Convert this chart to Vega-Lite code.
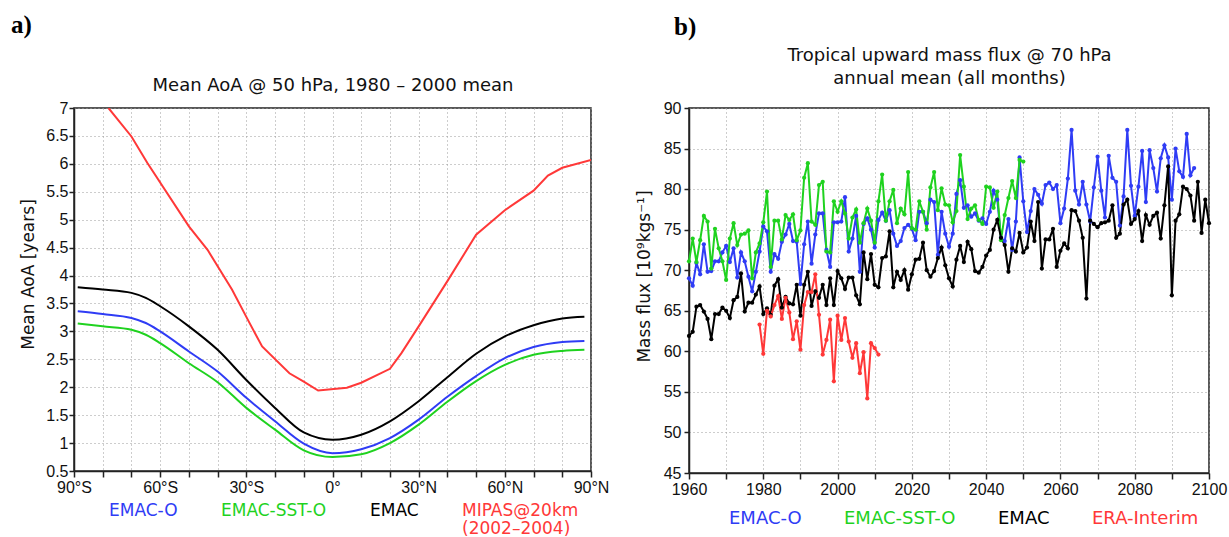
{
  "$schema": "https://vega.github.io/schema/vega-lite/v6.json",
  "background": "white",
  "padding": {"left": 10, "top": 12, "right": 5, "bottom": 0},
  "spacing": 24,
  "config": {
    "view": {"stroke": "#222222", "strokeWidth": 1.5},
    "axis": {
      "labelFont": "Liberation Sans", "labelFontSize": 16, "labelColor": "#111111",
      "titleFont": "DejaVu Sans", "titleFontWeight": "normal", "titleFontSize": 17, "titleColor": "#111111",
      "tickColor": "#222222", "domainColor": "#222222", "tickSize": 6, "tickWidth": 1.5, "domainWidth": 1.5, "ticks": true,
      "gridColor": "#9a9a9a", "gridDash": [1, 3], "gridWidth": 1
    },
    "legend": {
      "labelFont": "DejaVu Sans", "labelFontSize": 18, "symbolSize": 0, "symbolOpacity": 0, "symbolStrokeWidth": 0,
      "labelOffset": 0, "orient": "bottom", "direction": "horizontal", "title": null
    }
  },
  "hconcat": [
    {
      "width": 517,
      "height": 363,
      "view": {"stroke": "#222222", "strokeWidth": 1.5},
      "title": {"text": "a)", "anchor": "start", "frame": "group", "font": "Liberation Serif", "fontSize": 25, "fontWeight": "bold", "color": "#000000", "dx": -63, "offset": 38},
      "data": {"values": [
        {"series": "EMAC", "lat": -88.7, "aoa": 3.79}, {"series": "EMAC", "lat": -80, "aoa": 3.75}, {"series": "EMAC", "lat": -70, "aoa": 3.69}, {"series": "EMAC", "lat": -65, "aoa": 3.6}, {"series": "EMAC", "lat": -60, "aoa": 3.45}, {"series": "EMAC", "lat": -50, "aoa": 3.09}, {"series": "EMAC", "lat": -40, "aoa": 2.67}, {"series": "EMAC", "lat": -30, "aoa": 2.13}, {"series": "EMAC", "lat": -20, "aoa": 1.63}, {"series": "EMAC", "lat": -10, "aoa": 1.19}, {"series": "EMAC", "lat": 0, "aoa": 1.06}, {"series": "EMAC", "lat": 10, "aoa": 1.15}, {"series": "EMAC", "lat": 20, "aoa": 1.39}, {"series": "EMAC", "lat": 30, "aoa": 1.75}, {"series": "EMAC", "lat": 40, "aoa": 2.18}, {"series": "EMAC", "lat": 50, "aoa": 2.6}, {"series": "EMAC", "lat": 60, "aoa": 2.91}, {"series": "EMAC", "lat": 70, "aoa": 3.11}, {"series": "EMAC", "lat": 80, "aoa": 3.23}, {"series": "EMAC", "lat": 87.7, "aoa": 3.26},
        {"series": "EMAC-O", "lat": -88.7, "aoa": 3.36}, {"series": "EMAC-O", "lat": -80, "aoa": 3.31}, {"series": "EMAC-O", "lat": -70, "aoa": 3.24}, {"series": "EMAC-O", "lat": -65, "aoa": 3.15}, {"series": "EMAC-O", "lat": -60, "aoa": 3.0}, {"series": "EMAC-O", "lat": -50, "aoa": 2.64}, {"series": "EMAC-O", "lat": -40, "aoa": 2.28}, {"series": "EMAC-O", "lat": -30, "aoa": 1.81}, {"series": "EMAC-O", "lat": -20, "aoa": 1.39}, {"series": "EMAC-O", "lat": -10, "aoa": 0.99}, {"series": "EMAC-O", "lat": 0, "aoa": 0.82}, {"series": "EMAC-O", "lat": 10, "aoa": 0.89}, {"series": "EMAC-O", "lat": 20, "aoa": 1.09}, {"series": "EMAC-O", "lat": 30, "aoa": 1.42}, {"series": "EMAC-O", "lat": 40, "aoa": 1.83}, {"series": "EMAC-O", "lat": 50, "aoa": 2.2}, {"series": "EMAC-O", "lat": 60, "aoa": 2.52}, {"series": "EMAC-O", "lat": 70, "aoa": 2.72}, {"series": "EMAC-O", "lat": 80, "aoa": 2.81}, {"series": "EMAC-O", "lat": 87.7, "aoa": 2.83},
        {"series": "EMAC-SST-O", "lat": -88.7, "aoa": 3.14}, {"series": "EMAC-SST-O", "lat": -80, "aoa": 3.09}, {"series": "EMAC-SST-O", "lat": -70, "aoa": 3.03}, {"series": "EMAC-SST-O", "lat": -65, "aoa": 2.94}, {"series": "EMAC-SST-O", "lat": -60, "aoa": 2.79}, {"series": "EMAC-SST-O", "lat": -50, "aoa": 2.43}, {"series": "EMAC-SST-O", "lat": -40, "aoa": 2.09}, {"series": "EMAC-SST-O", "lat": -30, "aoa": 1.63}, {"series": "EMAC-SST-O", "lat": -20, "aoa": 1.24}, {"series": "EMAC-SST-O", "lat": -10, "aoa": 0.87}, {"series": "EMAC-SST-O", "lat": 0, "aoa": 0.75}, {"series": "EMAC-SST-O", "lat": 10, "aoa": 0.8}, {"series": "EMAC-SST-O", "lat": 20, "aoa": 1.0}, {"series": "EMAC-SST-O", "lat": 30, "aoa": 1.33}, {"series": "EMAC-SST-O", "lat": 40, "aoa": 1.74}, {"series": "EMAC-SST-O", "lat": 50, "aoa": 2.11}, {"series": "EMAC-SST-O", "lat": 60, "aoa": 2.4}, {"series": "EMAC-SST-O", "lat": 70, "aoa": 2.58}, {"series": "EMAC-SST-O", "lat": 80, "aoa": 2.65}, {"series": "EMAC-SST-O", "lat": 87.7, "aoa": 2.67},
        {"series": "MIPAS@20km", "lat": -78, "aoa": 7.0}, {"series": "MIPAS@20km", "lat": -70, "aoa": 6.49}, {"series": "MIPAS@20km", "lat": -64.5, "aoa": 6.02}, {"series": "MIPAS@20km", "lat": -50, "aoa": 4.88}, {"series": "MIPAS@20km", "lat": -43.5, "aoa": 4.46}, {"series": "MIPAS@20km", "lat": -35, "aoa": 3.75}, {"series": "MIPAS@20km", "lat": -29.5, "aoa": 3.21}, {"series": "MIPAS@20km", "lat": -24.5, "aoa": 2.73}, {"series": "MIPAS@20km", "lat": -15, "aoa": 2.25}, {"series": "MIPAS@20km", "lat": -10, "aoa": 2.1}, {"series": "MIPAS@20km", "lat": -5, "aoa": 1.94}, {"series": "MIPAS@20km", "lat": 5, "aoa": 1.99}, {"series": "MIPAS@20km", "lat": 10, "aoa": 2.08}, {"series": "MIPAS@20km", "lat": 20, "aoa": 2.33}, {"series": "MIPAS@20km", "lat": 24, "aoa": 2.61}, {"series": "MIPAS@20km", "lat": 30, "aoa": 3.09}, {"series": "MIPAS@20km", "lat": 40, "aoa": 3.9}, {"series": "MIPAS@20km", "lat": 50, "aoa": 4.73}, {"series": "MIPAS@20km", "lat": 60, "aoa": 5.17}, {"series": "MIPAS@20km", "lat": 70, "aoa": 5.52}, {"series": "MIPAS@20km", "lat": 75, "aoa": 5.79}, {"series": "MIPAS@20km", "lat": 80, "aoa": 5.93}, {"series": "MIPAS@20km", "lat": 90, "aoa": 6.07}
      ]},
      "layer": [
        {
          "encoding": {
            "x": {"field": "lat", "type": "quantitative", "scale": {"domain": [-90, 90], "nice": false},
              "axis": {"title": null, "grid": true, "ticks": true, "values": [-90, -80, -70, -60, -50, -40, -30, -20, -10, 0, 10, 20, 30, 40, 50, 60, 70, 80, 90],
                "labelExpr": "datum.value % 30 != 0 ? '' : datum.value == 0 ? '0°' : datum.value < 0 ? (-datum.value) + '°S' : datum.value + '°N'",
                "labelPadding": 2, "labelFlush": false, "labelOverlap": false}},
            "y": {"field": "aoa", "type": "quantitative", "scale": {"domain": [0.5, 7], "nice": false, "zero": false},
              "axis": {"title": "Mean AoA [years]", "grid": true, "ticks": true, "values": [0.5, 1, 1.5, 2, 2.5, 3, 3.5, 4, 4.5, 5, 5.5, 6, 6.5, 7],
                "labelExpr": "'' + datum.value", "tickSize": 5, "labelPadding": 1, "titlePadding": 8, "titleY": 166, "labelFlush": false, "labelOverlap": false}},
            "color": {"field": "series", "type": "nominal",
              "scale": {"domain": ["EMAC-O", "EMAC-SST-O", "EMAC", "MIPAS@20km"], "range": ["#2f3cf5", "#1fd21f", "#000000", "#ff3838"]},
              "legend": {"columnPadding": 26, "offset": -19, "padding": 18, "labelBaseline": "top", "labelFontSize": 17,
                "labelExpr": "datum.label == 'MIPAS@20km' ? ['MIPAS@20km', '(2002–2004)'] : [datum.label, ' ']",
                "encode": {"labels": {"update": {"lineHeight": {"value": 18}, "fill": {"signal": "datum.value == 'EMAC-O' ? '#2f3cf5' : datum.value == 'EMAC-SST-O' ? '#1fd21f' : datum.value == 'EMAC' ? '#000000' : '#ff3838'"}}}}}}
          },
          "layer": [
            {"transform": [{"filter": "datum.series != 'MIPAS@20km'"}], "mark": {"type": "line", "strokeWidth": 2, "interpolate": "monotone"}},
            {"transform": [{"filter": "datum.series == 'MIPAS@20km'"}], "mark": {"type": "line", "strokeWidth": 2, "clip": true}}
          ]
        },
        {
          "mark": {"type": "rule", "opacity": 0},
          "encoding": {
            "x": {"field": "lat", "type": "quantitative",
              "axis": {"orient": "top", "title": "Mean AoA @ 50 hPa, 1980 – 2000 mean", "titleFontSize": 18, "labels": false, "ticks": false, "domain": false, "grid": false, "titlePadding": 14}}
          }
        }
      ],
      "resolve": {"axis": {"x": "independent"}}
    },
    {
      "width": 520,
      "height": 365,
      "view": {"stroke": "#222222", "strokeWidth": 1.5},
      "title": {"text": "b)", "anchor": "start", "frame": "group", "font": "Liberation Serif", "fontSize": 25, "fontWeight": "bold", "color": "#000000", "dx": -15, "offset": 6},
      "data": {"values": [
        {"series": "EMAC-O", "year": 1960, "flux": 69.0}, {"series": "EMAC-O", "year": 1961, "flux": 68.1}, {"series": "EMAC-O", "year": 1962, "flux": 70.9}, {"series": "EMAC-O", "year": 1963, "flux": 69.5}, {"series": "EMAC-O", "year": 1964, "flux": 73.2}, {"series": "EMAC-O", "year": 1965, "flux": 69.8}, {"series": "EMAC-O", "year": 1966, "flux": 69.9}, {"series": "EMAC-O", "year": 1967, "flux": 71.1}, {"series": "EMAC-O", "year": 1968, "flux": 71.1}, {"series": "EMAC-O", "year": 1969, "flux": 72.2},
        {"series": "EMAC-O", "year": 1970, "flux": 73.0}, {"series": "EMAC-O", "year": 1971, "flux": 71.0}, {"series": "EMAC-O", "year": 1972, "flux": 72.7}, {"series": "EMAC-O", "year": 1973, "flux": 69.1}, {"series": "EMAC-O", "year": 1974, "flux": 72.2}, {"series": "EMAC-O", "year": 1975, "flux": 71.1}, {"series": "EMAC-O", "year": 1976, "flux": 69.2}, {"series": "EMAC-O", "year": 1977, "flux": 67.4}, {"series": "EMAC-O", "year": 1978, "flux": 69.8}, {"series": "EMAC-O", "year": 1979, "flux": 72.3},
        {"series": "EMAC-O", "year": 1980, "flux": 75.4}, {"series": "EMAC-O", "year": 1981, "flux": 74.8}, {"series": "EMAC-O", "year": 1982, "flux": 69.8}, {"series": "EMAC-O", "year": 1983, "flux": 72.0}, {"series": "EMAC-O", "year": 1984, "flux": 71.4}, {"series": "EMAC-O", "year": 1985, "flux": 73.5}, {"series": "EMAC-O", "year": 1986, "flux": 74.4}, {"series": "EMAC-O", "year": 1987, "flux": 75.7}, {"series": "EMAC-O", "year": 1988, "flux": 73.6}, {"series": "EMAC-O", "year": 1989, "flux": 73.5},
        {"series": "EMAC-O", "year": 1990, "flux": 68.3}, {"series": "EMAC-O", "year": 1991, "flux": 73.2}, {"series": "EMAC-O", "year": 1992, "flux": 76.0}, {"series": "EMAC-O", "year": 1993, "flux": 70.8}, {"series": "EMAC-O", "year": 1994, "flux": 74.4}, {"series": "EMAC-O", "year": 1995, "flux": 77.0}, {"series": "EMAC-O", "year": 1996, "flux": 77.0}, {"series": "EMAC-O", "year": 1997, "flux": 72.5}, {"series": "EMAC-O", "year": 1998, "flux": 70.4}, {"series": "EMAC-O", "year": 1999, "flux": 75.9},
        {"series": "EMAC-O", "year": 2000, "flux": 75.9}, {"series": "EMAC-O", "year": 2001, "flux": 76.0}, {"series": "EMAC-O", "year": 2002, "flux": 79.0}, {"series": "EMAC-O", "year": 2003, "flux": 72.3}, {"series": "EMAC-O", "year": 2004, "flux": 73.9}, {"series": "EMAC-O", "year": 2005, "flux": 76.7}, {"series": "EMAC-O", "year": 2006, "flux": 69.8}, {"series": "EMAC-O", "year": 2007, "flux": 75.7}, {"series": "EMAC-O", "year": 2008, "flux": 76.4}, {"series": "EMAC-O", "year": 2009, "flux": 75.0},
        {"series": "EMAC-O", "year": 2010, "flux": 72.8}, {"series": "EMAC-O", "year": 2011, "flux": 76.2}, {"series": "EMAC-O", "year": 2012, "flux": 77.1}, {"series": "EMAC-O", "year": 2013, "flux": 76.1}, {"series": "EMAC-O", "year": 2014, "flux": 77.4}, {"series": "EMAC-O", "year": 2015, "flux": 74.5}, {"series": "EMAC-O", "year": 2016, "flux": 73.0}, {"series": "EMAC-O", "year": 2017, "flux": 73.6}, {"series": "EMAC-O", "year": 2018, "flux": 75.2}, {"series": "EMAC-O", "year": 2019, "flux": 75.6},
        {"series": "EMAC-O", "year": 2020, "flux": 75.1}, {"series": "EMAC-O", "year": 2021, "flux": 73.7}, {"series": "EMAC-O", "year": 2022, "flux": 77.2}, {"series": "EMAC-O", "year": 2023, "flux": 77.2}, {"series": "EMAC-O", "year": 2024, "flux": 75.8}, {"series": "EMAC-O", "year": 2025, "flux": 78.7}, {"series": "EMAC-O", "year": 2026, "flux": 78.4}, {"series": "EMAC-O", "year": 2027, "flux": 71.9}, {"series": "EMAC-O", "year": 2028, "flux": 77.2}, {"series": "EMAC-O", "year": 2029, "flux": 74.5},
        {"series": "EMAC-O", "year": 2030, "flux": 72.9}, {"series": "EMAC-O", "year": 2031, "flux": 74.5}, {"series": "EMAC-O", "year": 2032, "flux": 79.4}, {"series": "EMAC-O", "year": 2033, "flux": 81.1}, {"series": "EMAC-O", "year": 2034, "flux": 77.7}, {"series": "EMAC-O", "year": 2035, "flux": 78.0}, {"series": "EMAC-O", "year": 2036, "flux": 76.6}, {"series": "EMAC-O", "year": 2037, "flux": 77.0}, {"series": "EMAC-O", "year": 2038, "flux": 76.1}, {"series": "EMAC-O", "year": 2039, "flux": 76.4},
        {"series": "EMAC-O", "year": 2040, "flux": 75.7}, {"series": "EMAC-O", "year": 2041, "flux": 77.2}, {"series": "EMAC-O", "year": 2042, "flux": 79.8}, {"series": "EMAC-O", "year": 2043, "flux": 78.7}, {"series": "EMAC-O", "year": 2044, "flux": 74.0}, {"series": "EMAC-O", "year": 2045, "flux": 73.6}, {"series": "EMAC-O", "year": 2046, "flux": 76.3}, {"series": "EMAC-O", "year": 2047, "flux": 72.5}, {"series": "EMAC-O", "year": 2048, "flux": 76.0}, {"series": "EMAC-O", "year": 2049, "flux": 83.9},
        {"series": "EMAC-O", "year": 2050, "flux": 78.5}, {"series": "EMAC-O", "year": 2051, "flux": 74.7}, {"series": "EMAC-O", "year": 2052, "flux": 77.3}, {"series": "EMAC-O", "year": 2053, "flux": 80.0}, {"series": "EMAC-O", "year": 2054, "flux": 79.3}, {"series": "EMAC-O", "year": 2055, "flux": 78.2}, {"series": "EMAC-O", "year": 2056, "flux": 80.5}, {"series": "EMAC-O", "year": 2057, "flux": 80.8}, {"series": "EMAC-O", "year": 2058, "flux": 80.0}, {"series": "EMAC-O", "year": 2059, "flux": 80.5},
        {"series": "EMAC-O", "year": 2060, "flux": 75.8}, {"series": "EMAC-O", "year": 2061, "flux": 77.6}, {"series": "EMAC-O", "year": 2062, "flux": 81.3}, {"series": "EMAC-O", "year": 2063, "flux": 87.3}, {"series": "EMAC-O", "year": 2064, "flux": 79.8}, {"series": "EMAC-O", "year": 2065, "flux": 78.1}, {"series": "EMAC-O", "year": 2066, "flux": 80.9}, {"series": "EMAC-O", "year": 2067, "flux": 78.1}, {"series": "EMAC-O", "year": 2068, "flux": 76.0}, {"series": "EMAC-O", "year": 2069, "flux": 80.2},
        {"series": "EMAC-O", "year": 2070, "flux": 84.0}, {"series": "EMAC-O", "year": 2071, "flux": 79.8}, {"series": "EMAC-O", "year": 2072, "flux": 76.5}, {"series": "EMAC-O", "year": 2073, "flux": 84.1}, {"series": "EMAC-O", "year": 2074, "flux": 81.4}, {"series": "EMAC-O", "year": 2075, "flux": 80.9}, {"series": "EMAC-O", "year": 2076, "flux": 75.5}, {"series": "EMAC-O", "year": 2077, "flux": 79.1}, {"series": "EMAC-O", "year": 2078, "flux": 87.3}, {"series": "EMAC-O", "year": 2079, "flux": 80.4},
        {"series": "EMAC-O", "year": 2080, "flux": 76.7}, {"series": "EMAC-O", "year": 2081, "flux": 80.3}, {"series": "EMAC-O", "year": 2082, "flux": 84.7}, {"series": "EMAC-O", "year": 2083, "flux": 78.4}, {"series": "EMAC-O", "year": 2084, "flux": 84.8}, {"series": "EMAC-O", "year": 2085, "flux": 82.6}, {"series": "EMAC-O", "year": 2086, "flux": 79.7}, {"series": "EMAC-O", "year": 2087, "flux": 83.8}, {"series": "EMAC-O", "year": 2088, "flux": 85.4}, {"series": "EMAC-O", "year": 2089, "flux": 83.9},
        {"series": "EMAC-O", "year": 2090, "flux": 78.7}, {"series": "EMAC-O", "year": 2091, "flux": 85.0}, {"series": "EMAC-O", "year": 2092, "flux": 82.2}, {"series": "EMAC-O", "year": 2093, "flux": 81.5}, {"series": "EMAC-O", "year": 2094, "flux": 86.8}, {"series": "EMAC-O", "year": 2095, "flux": 81.7}, {"series": "EMAC-O", "year": 2096, "flux": 82.6},

        {"series": "EMAC-SST-O", "year": 1960, "flux": 71.1}, {"series": "EMAC-SST-O", "year": 1961, "flux": 73.9}, {"series": "EMAC-SST-O", "year": 1962, "flux": 71.0}, {"series": "EMAC-SST-O", "year": 1963, "flux": 73.7}, {"series": "EMAC-SST-O", "year": 1964, "flux": 76.7}, {"series": "EMAC-SST-O", "year": 1965, "flux": 76.0}, {"series": "EMAC-SST-O", "year": 1966, "flux": 70.2}, {"series": "EMAC-SST-O", "year": 1967, "flux": 75.1}, {"series": "EMAC-SST-O", "year": 1968, "flux": 72.7}, {"series": "EMAC-SST-O", "year": 1969, "flux": 71.1},
        {"series": "EMAC-SST-O", "year": 1970, "flux": 68.8}, {"series": "EMAC-SST-O", "year": 1971, "flux": 73.9}, {"series": "EMAC-SST-O", "year": 1972, "flux": 75.8}, {"series": "EMAC-SST-O", "year": 1973, "flux": 73.1}, {"series": "EMAC-SST-O", "year": 1974, "flux": 74.4}, {"series": "EMAC-SST-O", "year": 1975, "flux": 74.5}, {"series": "EMAC-SST-O", "year": 1976, "flux": 74.9}, {"series": "EMAC-SST-O", "year": 1977, "flux": 69.0}, {"series": "EMAC-SST-O", "year": 1978, "flux": 72.2}, {"series": "EMAC-SST-O", "year": 1979, "flux": 73.3},
        {"series": "EMAC-SST-O", "year": 1980, "flux": 75.9}, {"series": "EMAC-SST-O", "year": 1981, "flux": 79.7}, {"series": "EMAC-SST-O", "year": 1982, "flux": 70.4}, {"series": "EMAC-SST-O", "year": 1983, "flux": 76.1}, {"series": "EMAC-SST-O", "year": 1984, "flux": 76.1}, {"series": "EMAC-SST-O", "year": 1985, "flux": 73.8}, {"series": "EMAC-SST-O", "year": 1986, "flux": 76.8}, {"series": "EMAC-SST-O", "year": 1987, "flux": 76.2}, {"series": "EMAC-SST-O", "year": 1988, "flux": 76.9}, {"series": "EMAC-SST-O", "year": 1989, "flux": 73.7},
        {"series": "EMAC-SST-O", "year": 1990, "flux": 74.9}, {"series": "EMAC-SST-O", "year": 1991, "flux": 81.4}, {"series": "EMAC-SST-O", "year": 1992, "flux": 83.2}, {"series": "EMAC-SST-O", "year": 1993, "flux": 76.0}, {"series": "EMAC-SST-O", "year": 1994, "flux": 75.6}, {"series": "EMAC-SST-O", "year": 1995, "flux": 80.5}, {"series": "EMAC-SST-O", "year": 1996, "flux": 80.9}, {"series": "EMAC-SST-O", "year": 1997, "flux": 72.3}, {"series": "EMAC-SST-O", "year": 1998, "flux": 72.2}, {"series": "EMAC-SST-O", "year": 1999, "flux": 78.5},
        {"series": "EMAC-SST-O", "year": 2000, "flux": 77.2}, {"series": "EMAC-SST-O", "year": 2001, "flux": 78.5}, {"series": "EMAC-SST-O", "year": 2002, "flux": 77.0}, {"series": "EMAC-SST-O", "year": 2003, "flux": 73.9}, {"series": "EMAC-SST-O", "year": 2004, "flux": 76.5}, {"series": "EMAC-SST-O", "year": 2005, "flux": 77.5}, {"series": "EMAC-SST-O", "year": 2006, "flux": 73.4}, {"series": "EMAC-SST-O", "year": 2007, "flux": 75.8}, {"series": "EMAC-SST-O", "year": 2008, "flux": 77.6}, {"series": "EMAC-SST-O", "year": 2009, "flux": 76.1},
        {"series": "EMAC-SST-O", "year": 2010, "flux": 73.4}, {"series": "EMAC-SST-O", "year": 2011, "flux": 78.5}, {"series": "EMAC-SST-O", "year": 2012, "flux": 81.8}, {"series": "EMAC-SST-O", "year": 2013, "flux": 76.1}, {"series": "EMAC-SST-O", "year": 2014, "flux": 78.5}, {"series": "EMAC-SST-O", "year": 2015, "flux": 79.9}, {"series": "EMAC-SST-O", "year": 2016, "flux": 75.8}, {"series": "EMAC-SST-O", "year": 2017, "flux": 77.6}, {"series": "EMAC-SST-O", "year": 2018, "flux": 76.9}, {"series": "EMAC-SST-O", "year": 2019, "flux": 82.1},
        {"series": "EMAC-SST-O", "year": 2020, "flux": 75.2}, {"series": "EMAC-SST-O", "year": 2021, "flux": 75.0}, {"series": "EMAC-SST-O", "year": 2022, "flux": 78.5}, {"series": "EMAC-SST-O", "year": 2023, "flux": 77.2}, {"series": "EMAC-SST-O", "year": 2024, "flux": 75.0}, {"series": "EMAC-SST-O", "year": 2025, "flux": 80.2}, {"series": "EMAC-SST-O", "year": 2026, "flux": 82.1}, {"series": "EMAC-SST-O", "year": 2027, "flux": 77.4}, {"series": "EMAC-SST-O", "year": 2028, "flux": 80.1}, {"series": "EMAC-SST-O", "year": 2029, "flux": 78.1},
        {"series": "EMAC-SST-O", "year": 2030, "flux": 78.0}, {"series": "EMAC-SST-O", "year": 2031, "flux": 75.9}, {"series": "EMAC-SST-O", "year": 2032, "flux": 77.3}, {"series": "EMAC-SST-O", "year": 2033, "flux": 84.2}, {"series": "EMAC-SST-O", "year": 2034, "flux": 80.3}, {"series": "EMAC-SST-O", "year": 2035, "flux": 76.3}, {"series": "EMAC-SST-O", "year": 2036, "flux": 77.6}, {"series": "EMAC-SST-O", "year": 2037, "flux": 78.0}, {"series": "EMAC-SST-O", "year": 2038, "flux": 76.2}, {"series": "EMAC-SST-O", "year": 2039, "flux": 75.7},
        {"series": "EMAC-SST-O", "year": 2040, "flux": 80.3}, {"series": "EMAC-SST-O", "year": 2041, "flux": 80.2}, {"series": "EMAC-SST-O", "year": 2042, "flux": 77.7}, {"series": "EMAC-SST-O", "year": 2043, "flux": 79.7}, {"series": "EMAC-SST-O", "year": 2044, "flux": 73.7}, {"series": "EMAC-SST-O", "year": 2045, "flux": 76.8}, {"series": "EMAC-SST-O", "year": 2046, "flux": 78.9}, {"series": "EMAC-SST-O", "year": 2047, "flux": 81.0}, {"series": "EMAC-SST-O", "year": 2048, "flux": 78.9}, {"series": "EMAC-SST-O", "year": 2049, "flux": 83.6},
        {"series": "EMAC-SST-O", "year": 2050, "flux": 83.4},

        {"series": "EMAC", "year": 1960, "flux": 61.9}, {"series": "EMAC", "year": 1961, "flux": 62.4}, {"series": "EMAC", "year": 1962, "flux": 65.5}, {"series": "EMAC", "year": 1963, "flux": 65.7}, {"series": "EMAC", "year": 1964, "flux": 64.9}, {"series": "EMAC", "year": 1965, "flux": 64.0}, {"series": "EMAC", "year": 1966, "flux": 61.5}, {"series": "EMAC", "year": 1967, "flux": 64.6}, {"series": "EMAC", "year": 1968, "flux": 64.6}, {"series": "EMAC", "year": 1969, "flux": 65.4},
        {"series": "EMAC", "year": 1970, "flux": 65.0}, {"series": "EMAC", "year": 1971, "flux": 64.1}, {"series": "EMAC", "year": 1972, "flux": 66.3}, {"series": "EMAC", "year": 1973, "flux": 66.7}, {"series": "EMAC", "year": 1974, "flux": 69.6}, {"series": "EMAC", "year": 1975, "flux": 64.9}, {"series": "EMAC", "year": 1976, "flux": 66.0}, {"series": "EMAC", "year": 1977, "flux": 66.0}, {"series": "EMAC", "year": 1978, "flux": 67.0}, {"series": "EMAC", "year": 1979, "flux": 68.0},
        {"series": "EMAC", "year": 1980, "flux": 64.6}, {"series": "EMAC", "year": 1981, "flux": 65.3}, {"series": "EMAC", "year": 1982, "flux": 64.5}, {"series": "EMAC", "year": 1983, "flux": 68.1}, {"series": "EMAC", "year": 1984, "flux": 68.9}, {"series": "EMAC", "year": 1985, "flux": 65.4}, {"series": "EMAC", "year": 1986, "flux": 66.7}, {"series": "EMAC", "year": 1987, "flux": 65.9}, {"series": "EMAC", "year": 1988, "flux": 65.8}, {"series": "EMAC", "year": 1989, "flux": 68.2},
        {"series": "EMAC", "year": 1990, "flux": 64.4}, {"series": "EMAC", "year": 1991, "flux": 68.2}, {"series": "EMAC", "year": 1992, "flux": 69.8}, {"series": "EMAC", "year": 1993, "flux": 65.6}, {"series": "EMAC", "year": 1994, "flux": 67.4}, {"series": "EMAC", "year": 1995, "flux": 66.6}, {"series": "EMAC", "year": 1996, "flux": 68.2}, {"series": "EMAC", "year": 1997, "flux": 65.7}, {"series": "EMAC", "year": 1998, "flux": 69.0}, {"series": "EMAC", "year": 1999, "flux": 65.7},
        {"series": "EMAC", "year": 2000, "flux": 69.9}, {"series": "EMAC", "year": 2001, "flux": 69.0}, {"series": "EMAC", "year": 2002, "flux": 67.7}, {"series": "EMAC", "year": 2003, "flux": 69.1}, {"series": "EMAC", "year": 2004, "flux": 69.1}, {"series": "EMAC", "year": 2005, "flux": 66.9}, {"series": "EMAC", "year": 2006, "flux": 65.8}, {"series": "EMAC", "year": 2007, "flux": 72.2}, {"series": "EMAC", "year": 2008, "flux": 68.9}, {"series": "EMAC", "year": 2009, "flux": 72.0},
        {"series": "EMAC", "year": 2010, "flux": 68.2}, {"series": "EMAC", "year": 2011, "flux": 67.9}, {"series": "EMAC", "year": 2012, "flux": 71.5}, {"series": "EMAC", "year": 2013, "flux": 71.7}, {"series": "EMAC", "year": 2014, "flux": 74.8}, {"series": "EMAC", "year": 2015, "flux": 67.9}, {"series": "EMAC", "year": 2016, "flux": 69.8}, {"series": "EMAC", "year": 2017, "flux": 68.8}, {"series": "EMAC", "year": 2018, "flux": 70.0}, {"series": "EMAC", "year": 2019, "flux": 67.6},
        {"series": "EMAC", "year": 2020, "flux": 69.5}, {"series": "EMAC", "year": 2021, "flux": 71.3}, {"series": "EMAC", "year": 2022, "flux": 71.4}, {"series": "EMAC", "year": 2023, "flux": 73.4}, {"series": "EMAC", "year": 2024, "flux": 70.0}, {"series": "EMAC", "year": 2025, "flux": 69.2}, {"series": "EMAC", "year": 2026, "flux": 69.9}, {"series": "EMAC", "year": 2027, "flux": 71.5}, {"series": "EMAC", "year": 2028, "flux": 72.8}, {"series": "EMAC", "year": 2029, "flux": 70.6},
        {"series": "EMAC", "year": 2030, "flux": 69.0}, {"series": "EMAC", "year": 2031, "flux": 68.0}, {"series": "EMAC", "year": 2032, "flux": 71.3}, {"series": "EMAC", "year": 2033, "flux": 73.0}, {"series": "EMAC", "year": 2034, "flux": 71.0}, {"series": "EMAC", "year": 2035, "flux": 73.5}, {"series": "EMAC", "year": 2036, "flux": 72.6}, {"series": "EMAC", "year": 2037, "flux": 69.9}, {"series": "EMAC", "year": 2038, "flux": 69.7}, {"series": "EMAC", "year": 2039, "flux": 70.4},
        {"series": "EMAC", "year": 2040, "flux": 71.8}, {"series": "EMAC", "year": 2041, "flux": 72.5}, {"series": "EMAC", "year": 2042, "flux": 75.0}, {"series": "EMAC", "year": 2043, "flux": 76.2}, {"series": "EMAC", "year": 2044, "flux": 74.0}, {"series": "EMAC", "year": 2045, "flux": 73.1}, {"series": "EMAC", "year": 2046, "flux": 69.8}, {"series": "EMAC", "year": 2047, "flux": 72.7}, {"series": "EMAC", "year": 2048, "flux": 72.3}, {"series": "EMAC", "year": 2049, "flux": 74.6},
        {"series": "EMAC", "year": 2050, "flux": 72.2}, {"series": "EMAC", "year": 2051, "flux": 72.8}, {"series": "EMAC", "year": 2052, "flux": 76.0}, {"series": "EMAC", "year": 2053, "flux": 73.6}, {"series": "EMAC", "year": 2054, "flux": 78.4}, {"series": "EMAC", "year": 2055, "flux": 70.2}, {"series": "EMAC", "year": 2056, "flux": 73.8}, {"series": "EMAC", "year": 2057, "flux": 73.8}, {"series": "EMAC", "year": 2058, "flux": 75.1}, {"series": "EMAC", "year": 2059, "flux": 70.4},
        {"series": "EMAC", "year": 2060, "flux": 72.4}, {"series": "EMAC", "year": 2061, "flux": 73.3}, {"series": "EMAC", "year": 2062, "flux": 72.7}, {"series": "EMAC", "year": 2063, "flux": 77.4}, {"series": "EMAC", "year": 2064, "flux": 77.3}, {"series": "EMAC", "year": 2065, "flux": 76.1}, {"series": "EMAC", "year": 2066, "flux": 74.0}, {"series": "EMAC", "year": 2067, "flux": 66.5}, {"series": "EMAC", "year": 2068, "flux": 76.1}, {"series": "EMAC", "year": 2069, "flux": 75.7},
        {"series": "EMAC", "year": 2070, "flux": 75.3}, {"series": "EMAC", "year": 2071, "flux": 75.8}, {"series": "EMAC", "year": 2072, "flux": 75.9}, {"series": "EMAC", "year": 2073, "flux": 76.1}, {"series": "EMAC", "year": 2074, "flux": 78.0}, {"series": "EMAC", "year": 2075, "flux": 74.0}, {"series": "EMAC", "year": 2076, "flux": 74.5}, {"series": "EMAC", "year": 2077, "flux": 78.1}, {"series": "EMAC", "year": 2078, "flux": 78.7}, {"series": "EMAC", "year": 2079, "flux": 75.7},
        {"series": "EMAC", "year": 2080, "flux": 76.3}, {"series": "EMAC", "year": 2081, "flux": 77.3}, {"series": "EMAC", "year": 2082, "flux": 73.6}, {"series": "EMAC", "year": 2083, "flux": 76.8}, {"series": "EMAC", "year": 2084, "flux": 75.6}, {"series": "EMAC", "year": 2085, "flux": 76.7}, {"series": "EMAC", "year": 2086, "flux": 77.1}, {"series": "EMAC", "year": 2087, "flux": 73.9}, {"series": "EMAC", "year": 2088, "flux": 78.0}, {"series": "EMAC", "year": 2089, "flux": 82.8},
        {"series": "EMAC", "year": 2090, "flux": 66.9}, {"series": "EMAC", "year": 2091, "flux": 76.1}, {"series": "EMAC", "year": 2092, "flux": 76.9}, {"series": "EMAC", "year": 2093, "flux": 80.3}, {"series": "EMAC", "year": 2094, "flux": 80.0}, {"series": "EMAC", "year": 2095, "flux": 79.2}, {"series": "EMAC", "year": 2096, "flux": 76.1}, {"series": "EMAC", "year": 2097, "flux": 80.9}, {"series": "EMAC", "year": 2098, "flux": 74.6}, {"series": "EMAC", "year": 2099, "flux": 78.7},
        {"series": "EMAC", "year": 2100, "flux": 75.8},

        {"series": "ERA-Interim", "year": 1979, "flux": 63.3}, {"series": "ERA-Interim", "year": 1980, "flux": 59.7}, {"series": "ERA-Interim", "year": 1981, "flux": 65.0}, {"series": "ERA-Interim", "year": 1982, "flux": 64.3}, {"series": "ERA-Interim", "year": 1983, "flux": 65.7}, {"series": "ERA-Interim", "year": 1984, "flux": 66.8}, {"series": "ERA-Interim", "year": 1985, "flux": 64.0}, {"series": "ERA-Interim", "year": 1986, "flux": 66.6}, {"series": "ERA-Interim", "year": 1987, "flux": 64.8}, {"series": "ERA-Interim", "year": 1988, "flux": 61.5},
        {"series": "ERA-Interim", "year": 1989, "flux": 63.7}, {"series": "ERA-Interim", "year": 1990, "flux": 60.2}, {"series": "ERA-Interim", "year": 1991, "flux": 65.7}, {"series": "ERA-Interim", "year": 1992, "flux": 67.3}, {"series": "ERA-Interim", "year": 1993, "flux": 67.3}, {"series": "ERA-Interim", "year": 1994, "flux": 69.5}, {"series": "ERA-Interim", "year": 1995, "flux": 64.5}, {"series": "ERA-Interim", "year": 1996, "flux": 59.6}, {"series": "ERA-Interim", "year": 1997, "flux": 61.4}, {"series": "ERA-Interim", "year": 1998, "flux": 63.9},
        {"series": "ERA-Interim", "year": 1999, "flux": 56.3}, {"series": "ERA-Interim", "year": 2000, "flux": 64.4}, {"series": "ERA-Interim", "year": 2001, "flux": 61.4}, {"series": "ERA-Interim", "year": 2002, "flux": 64.1}, {"series": "ERA-Interim", "year": 2003, "flux": 61.2}, {"series": "ERA-Interim", "year": 2004, "flux": 59.2}, {"series": "ERA-Interim", "year": 2005, "flux": 61.0}, {"series": "ERA-Interim", "year": 2006, "flux": 57.3}, {"series": "ERA-Interim", "year": 2007, "flux": 59.9}, {"series": "ERA-Interim", "year": 2008, "flux": 54.2},
        {"series": "ERA-Interim", "year": 2009, "flux": 61.0}, {"series": "ERA-Interim", "year": 2010, "flux": 60.4}, {"series": "ERA-Interim", "year": 2011, "flux": 59.6}
      ]},
      "layer": [
        {
          "encoding": {
            "x": {"field": "year", "type": "quantitative", "scale": {"domain": [1960, 2100], "nice": false, "zero": false},
              "axis": {"title": null, "grid": true, "ticks": true, "values": [1960, 1970, 1980, 1990, 2000, 2010, 2020, 2030, 2040, 2050, 2060, 2070, 2080, 2090, 2100],
                "labelExpr": "datum.value % 20 == 0 ? '' + datum.value : ''", "labelPadding": 2, "labelFlush": false, "labelOverlap": false}},
            "y": {"field": "flux", "type": "quantitative", "scale": {"domain": [45, 90], "nice": false, "zero": false},
              "axis": {"title": "Mass flux [10⁹kgs⁻¹]", "grid": true, "ticks": true, "values": [45, 50, 55, 60, 65, 70, 75, 80, 85, 90],
                "tickSize": 5, "labelPadding": 3, "titlePadding": 10, "titleY": 168, "labelFlush": false, "labelOverlap": false}},
            "color": {"field": "series", "type": "nominal",
              "scale": {"domain": ["EMAC-O", "EMAC-SST-O", "EMAC", "ERA-Interim"], "range": ["#2f3cf5", "#1fd21f", "#000000", "#ff3838"]},
              "legend": {"columnPadding": 24, "offset": -9, "padding": 22,
                "encode": {"labels": {"update": {"fill": {"signal": "datum.value == 'EMAC-O' ? '#2f3cf5' : datum.value == 'EMAC-SST-O' ? '#1fd21f' : datum.value == 'EMAC' ? '#000000' : '#ff3838'"}}}}}}
          },
          "layer": [
            {"mark": {"type": "line", "strokeWidth": 2}},
            {"mark": {"type": "point", "filled": true, "size": 18, "opacity": 1}}
          ]
        },
        {
          "mark": {"type": "rule", "opacity": 0},
          "encoding": {
            "x": {"field": "year", "type": "quantitative",
              "axis": {"orient": "top", "title": ["Tropical upward mass flux @ 70 hPa", "annual mean (all months)"], "titleFontSize": 18, "titleLineHeight": 23, "labels": false, "ticks": false, "domain": false, "grid": false, "titlePadding": 21}}
          }
        }
      ],
      "resolve": {"axis": {"x": "independent"}}
    }
  ],
  "resolve": {"scale": {"color": "independent"}, "legend": {"color": "independent"}}
}
